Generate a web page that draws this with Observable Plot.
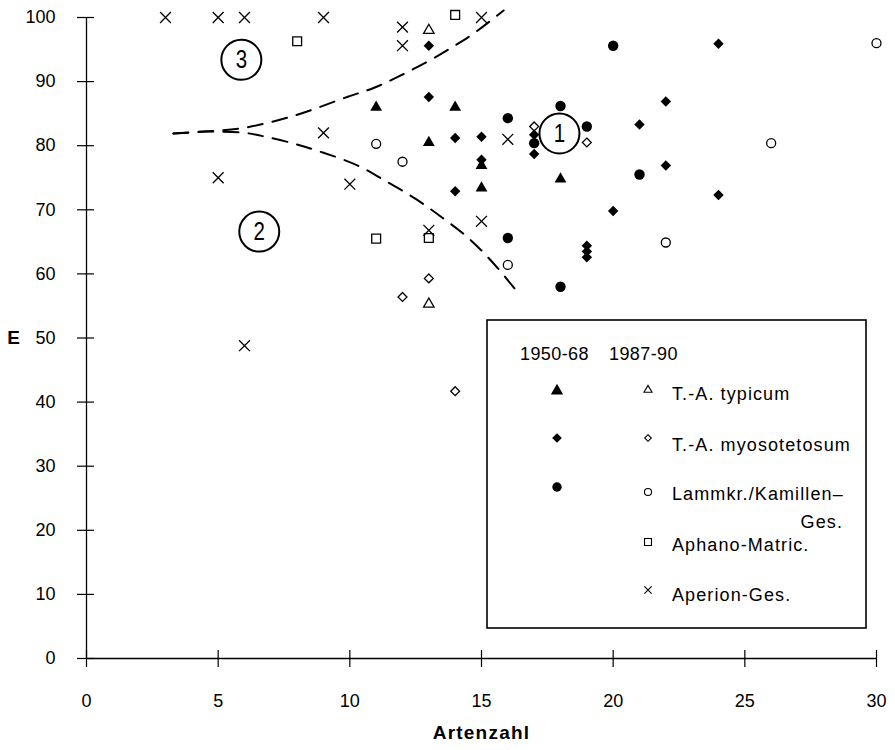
<!DOCTYPE html>
<html>
<head>
<meta charset="utf-8">
<script src="https://cdn.jsdelivr.net/npm/d3@7"></script>
<script src="https://cdn.jsdelivr.net/npm/@observablehq/plot@0.6"></script>
<style>
  body { margin: 0; background: #fff; }
  #chart { position: relative; width: 895px; height: 750px; background: #fff; }
</style>
</head>
<body>
<div id="chart"></div>
<script>
// ---- data ----
const xTicks = [0, 5, 10, 15, 20, 25, 30];
const yTicks = [0, 10, 20, 30, 40, 50, 60, 70, 80, 90, 100];

// 1950-68 (filled symbols)
const typicumOld = [[11, 86], [13, 80.5], [14, 86], [15, 76.9], [15, 73.4], [18, 74.8]];
const myosOld = [[13, 95.6], [13, 87.6], [14, 81.2], [15, 81.4], [15, 77.8], [17, 81.7], [17, 78.7],
  [14, 72.9], [22, 86.9], [21, 83.3], [22, 76.9], [20, 69.8], [19, 64.4], [19, 63.5], [19, 62.6],
  [24, 95.9], [24, 72.3]];
const lammOld = [[20, 95.6], [18, 86.2], [16, 84.3], [19, 83], [17, 80.4], [21, 75.5], [16, 65.6], [18, 58]];

// 1987-90 (open symbols)
const typicumNew = [[13, 98], [13, 55.3]];
const myosNew = [[17, 83], [19, 80.5], [13, 59.3], [12, 56.4], [14, 41.7]];
const lammNew = [[11, 80.3], [12, 77.5], [16, 61.4], [22, 64.9], [30, 96], [26, 80.4]];
const aphanoNew = [[8, 96.3], [14, 100.4], [11, 65.5], [13, 65.6]];
const aperionNew = [[3, 100], [5, 100], [6, 100], [9, 100], [12, 98.5], [12, 95.6], [15, 100],
  [9, 82], [5, 75], [10, 74], [16, 81], [15, 68.2], [13, 66.8], [6, 48.8]];

// dashed boundary curves
const upperCurve = [[3.3, 81.9], [4.5, 82.2], [6, 82.8], [7.9, 84.7], [9.9, 87.6], [10.9, 89],
  [11.8, 90.7], [12.9, 93], [13.9, 95.4], [14.7, 97.5], [15.84, 101.1]];
const lowerCurve = [[3.3, 81.9], [4.5, 82.2], [6, 82], [6.8, 81.4], [7.9, 80.3], [9, 78.9],
  [10.3, 76.9], [11.4, 74.4], [12.5, 71.7], [13.5, 68.8], [14.5, 65.6], [15.4, 61.9], [16.4, 57]];

// circled group numbers
const groupLabels = ["1", "3", "2"];
const groupX = [17.96, 5.88, 6.56];
const groupY = [81.9, 93.4, 66.6];

// legend
const legendHeaders = ["1950-68", "1987-90"];
const legendNames = ["T.-A. typicum", "T.-A. myosotetosum", "Lammkr./Kamillen–", "Aphano-Matric.", "Aperion-Ges."];

// ---- chart ----
const FONT = '"Liberation Sans", Arial, Helvetica, sans-serif';
const NARROW = '"Liberation Sans Narrow", "Arial Narrow", "Liberation Sans", sans-serif';
const X = d => d[0], Y = d => d[1];
const groups = groupLabels.map((t, i) => ({t, x: groupX[i], y: groupY[i]}));

const chart = Plot.plot({
  width: 895,
  height: 750,
  marginLeft: 86,
  marginRight: 19,
  marginTop: 17,
  marginBottom: 92,
  x: {domain: [0, 30]},
  y: {domain: [0, 100]},
  style: {fontFamily: FONT, fontSize: "18px", color: "#000", background: "#fff", overflow: "visible"},
  marks: [
    // axis lines
    Plot.ruleY([0], {strokeWidth: 1.3}),
    Plot.ruleX([0], {strokeWidth: 1.3}),
    // crossing ticks
    Plot.ruleX(xTicks, {x: d => d, y1: 0, y2: 0, insetTop: -8, insetBottom: -9, strokeWidth: 1.2}),
    Plot.ruleY(yTicks, {y: d => d, x1: 0, x2: 0, insetLeft: -9, insetRight: -8, strokeWidth: 1.2}),
    // tick labels
    Plot.axisX({ticks: xTicks, tickSize: 0, tickPadding: 36, label: null, fontSize: 18}),
    Plot.axisY({ticks: yTicks, tickSize: 0, tickPadding: 31, label: null, fontSize: 18}),
    // axis titles
    Plot.text(["Artenzahl"], {text: d => d, frameAnchor: "bottom", dy: 80, fontWeight: "bold", fontSize: 19}),
    Plot.text(["E"], {text: d => d, frameAnchor: "left", dx: -73, textAnchor: "middle", fontWeight: "bold", fontSize: 19}),
    // dashed curves
    Plot.line(upperCurve, {x: X, y: Y, curve: "catmull-rom", stroke: "black", strokeWidth: 2, strokeDasharray: "15,10"}),
    Plot.line(lowerCurve, {x: X, y: Y, curve: "catmull-rom", stroke: "black", strokeWidth: 2, strokeDasharray: "15,10"}),
    // circled group labels
    Plot.dot(groups, {x: "x", y: "y", r: 20, stroke: "black", strokeWidth: 2, fill: "none"}),
    Plot.text(groups, {x: "x", y: "y", text: "t", fontSize: 25, fontFamily: NARROW}),
    // open symbols (1987-90)
    Plot.dot(typicumNew, {x: X, y: Y, symbol: "triangle", r: 3.9, stroke: "black", strokeWidth: 1.3, fill: "none"}),
    Plot.dot(myosNew, {x: X, y: Y, symbol: "diamond2", r: 4, stroke: "black", strokeWidth: 1.3, fill: "none"}),
    Plot.dot(lammNew, {x: X, y: Y, symbol: "circle", r: 4.5, stroke: "black", strokeWidth: 1.3, fill: "none"}),
    Plot.dot(aphanoNew, {x: X, y: Y, symbol: "square", r: 5, stroke: "black", strokeWidth: 1.3, fill: "none"}),
    Plot.dot(aperionNew, {x: X, y: Y, symbol: "times", r: 5, stroke: "black", strokeWidth: 1.3, fill: "none"}),
    // filled symbols (1950-68)
    Plot.dot(typicumOld, {x: X, y: Y, symbol: "triangle", r: 4.4, fill: "black", stroke: "none"}),
    Plot.dot(myosOld, {x: X, y: Y, symbol: "diamond2", r: 4.7, fill: "black", stroke: "none"}),
    Plot.dot(lammOld, {x: X, y: Y, symbol: "circle", r: 5.2, fill: "black", stroke: "none"})
  ]
});
document.getElementById("chart").appendChild(chart);

// typographic touches: spaced axis title, condensed circled numbers
d3.select(chart).selectAll("text").each(function () {
  if (this.textContent === "Artenzahl") d3.select(this).attr("letter-spacing", "1.2px");
});
d3.select(chart).selectAll("g").filter(function () {
  return (this.getAttribute("font-family") || "").startsWith('"Liberation Sans Narrow"');
}).selectAll("text").each(function () {
  const tr = this.getAttribute("transform") || "";
  this.setAttribute("transform", tr + " scale(0.82,1.04)");
});

// ---- legend (overlay inside the plot area) ----
const LW = 381, LH = 310;
const leg = d3.select("#chart").append("svg")
  .attr("width", LW).attr("height", LH)
  .style("position", "absolute").style("left", "486px").style("top", "319px")
  .attr("font-family", FONT).attr("font-size", 18);
leg.append("rect").attr("x", 1).attr("y", 1).attr("width", LW - 2).attr("height", LH - 2)
  .attr("fill", "white").attr("stroke", "black").attr("stroke-width", 1.6);

leg.append("text").attr("x", 34).attr("y", 41).text(legendHeaders[0]).attr("letter-spacing", 0.4);
leg.append("text").attr("x", 123).attr("y", 41).text(legendHeaders[1]).attr("letter-spacing", 0.4);

const sym = (type, size) => d3.symbol(type, size)();
const filledSyms = [[d3.symbolTriangle, 66, 72], [d3.symbolDiamond2, 60, 119], [d3.symbolCircle, 70, 168]];
filledSyms.forEach(([t, s, y]) => {
  leg.append("path").attr("d", sym(t, s)).attr("transform", `translate(71,${y})`).attr("fill", "black");
});
const openSyms = [[d3.symbolTriangle, 28, 71], [d3.symbolDiamond2, 28, 119], [d3.symbolCircle, 40, 173],
  [d3.symbolSquare, 48, 223], [d3.symbolTimes, 36, 271]];
openSyms.forEach(([t, s, y]) => {
  leg.append("path").attr("d", sym(t, s)).attr("transform", `translate(162,${y})`)
    .attr("fill", "none").attr("stroke", "black").attr("stroke-width", 1.1);
});
const labelY = [81, 132, 181, 232, 282];
legendNames.forEach((n, i) => {
  leg.append("text").attr("x", 186).attr("y", labelY[i]).attr("letter-spacing", 1.1).text(n);
});
leg.append("text").attr("x", 357).attr("y", 209).attr("text-anchor", "end").attr("letter-spacing", 1.1).text("Ges.");
</script>
</body>
</html>
